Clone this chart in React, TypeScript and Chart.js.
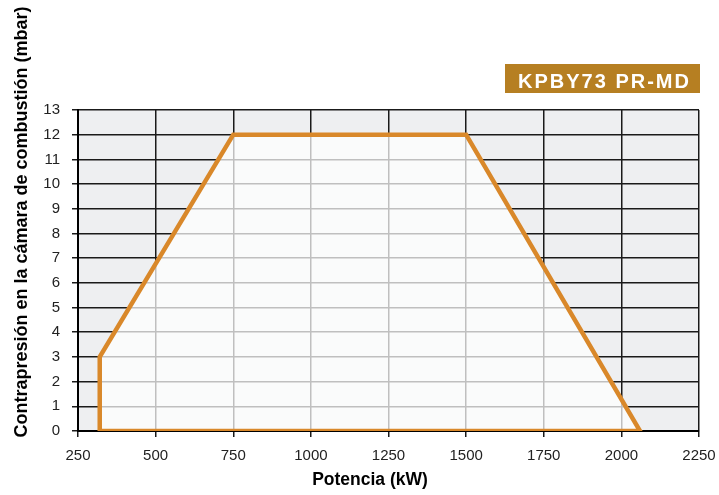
import React, { useEffect, useRef } from "react";
import { Chart, registerables } from "chart.js";

Chart.register(...registerables);

const xTicks = [250, 500, 750, 1000, 1250, 1500, 1750, 2000, 2250];
const yTicks = [0, 1, 2, 3, 4, 5, 6, 7, 8, 9, 10, 11, 12, 13];
const powerKW = [320, 320, 750, 1500, 2060, 320];
const pressureMbar = [0, 3, 12, 12, 0, 0];
const modelName = "KPBY73 PR-MD";
const xTitle = "Potencia (kW)";
const yTitle = "Contrapresión en la cámara de combustión (mbar)";

const FONT = "'Liberation Sans', Arial, Helvetica, sans-serif";

const badgePlugin = {
  id: "badge",
  afterDraw(chart: any) {
    const ctx = chart.ctx;
    const right = chart.chartArea.right + 1;
    const w = 195;
    const h = 29;
    const x = right - w;
    const y = 64;
    ctx.save();
    ctx.fillStyle = "#b67f22";
    ctx.fillRect(x, y, w, h);
    ctx.fillStyle = "#ffffff";
    ctx.font = `bold 20px ${FONT}`;
    (ctx as any).letterSpacing = "2px";
    ctx.textAlign = "center";
    ctx.textBaseline = "alphabetic";
    ctx.fillText(modelName, x + w / 2 + 2, y + 24);
    ctx.restore();
  },
};

const titlesPlugin = {
  id: "axisTitles",
  afterDraw(chart: any) {
    const ctx = chart.ctx;
    ctx.save();
    ctx.fillStyle = "#000";
    ctx.font = `bold 17.5px ${FONT}`;
    ctx.textAlign = "center";
    ctx.textBaseline = "alphabetic";
    ctx.fillText(xTitle, 370, 485);
    ctx.translate(22, 222);
    ctx.rotate(-Math.PI / 2);
    ctx.font = `bold 18px ${FONT}`;
    ctx.textBaseline = "middle";
    ctx.fillText(yTitle, 0, 0);
    ctx.restore();
  },
};

const bgPlugin = {
  id: "plotbg",
  beforeDraw(chart: any) {
    const { ctx, chartArea } = chart;
    ctx.save();
    ctx.fillStyle = "#eeeff1";
    ctx.fillRect(chartArea.left, chartArea.top, chartArea.right - chartArea.left, chartArea.bottom - chartArea.top);
    ctx.restore();
  },
};

export default function App() {
  const ref = useRef<HTMLCanvasElement>(null);
  useEffect(() => {
    if (!ref.current) return;
    const pts = powerKW.map((x, i) => ({ x, y: pressureMbar[i] }));
    const fillPts = pts.slice(0, 5);
    const chart = new Chart(ref.current, {
      type: "scatter",
      data: {
        datasets: [
          {
            data: fillPts,
            showLine: true,
            borderWidth: 0,
            borderColor: "rgba(0,0,0,0)",
            backgroundColor: "rgba(255,255,255,0.72)",
            fill: "origin",
            pointRadius: 0,
            tension: 0,
            order: 2,
          },
          {
            data: pts,
            showLine: true,
            borderWidth: 4.5,
            borderColor: "#d9882a",
            fill: false,
            pointRadius: 0,
            tension: 0,
            borderJoinStyle: "miter",
            order: 1,
          },
        ],
      },
      options: {
        animation: false,
        responsive: false,
        maintainAspectRatio: false,
        layout: { padding: { top: 110, right: 20, left: 0, bottom: 0 } },
        plugins: {
          legend: { display: false },
          tooltip: { enabled: false },
          filler: { propagate: false },
        },
        scales: {
          x: {
            type: "linear",
            min: 250,
            max: 2250,
            afterBuildTicks: (s: any) => {
              s.ticks = xTicks.map((v) => ({ value: v }));
            },
            afterFit: (s: any) => {
              s.height = 64;
              s.paddingLeft = 0;
              s.paddingRight = 0;
            },
            ticks: {
              color: "#222",
              font: { family: FONT, size: 15 },
              padding: 10,
              maxRotation: 0,
              callback: (v: any) => String(v),
            },
            grid: { color: "#1a1a1a", lineWidth: 1.5, tickLength: 6 },
            border: { color: "#000", width: 2 },
          },
          y: {
            type: "linear",
            min: 0,
            max: 13,
            afterBuildTicks: (s: any) => {
              s.ticks = yTicks.map((v) => ({ value: v }));
            },
            afterFit: (s: any) => {
              s.width = 78;
              s.paddingTop = 0;
              s.paddingBottom = 0;
            },
            ticks: {
              color: "#222",
              font: { family: FONT, size: 15 },
              padding: 12,
              callback: (v: any) => String(v),
            },
            grid: { color: "#1a1a1a", lineWidth: 1.5, tickLength: 6 },
            border: { color: "#000", width: 2 },
          },
        },
      },
      plugins: [bgPlugin, badgePlugin, titlesPlugin],
    } as any);
    return () => chart.destroy();
  }, []);
  return (
    <div style={{ position: "fixed", left: 0, top: 0, width: 719, height: 495, background: "#fff" }}>
      <canvas ref={ref} width={719} height={495} style={{ width: 719, height: 495 }} />
    </div>
  );
}
